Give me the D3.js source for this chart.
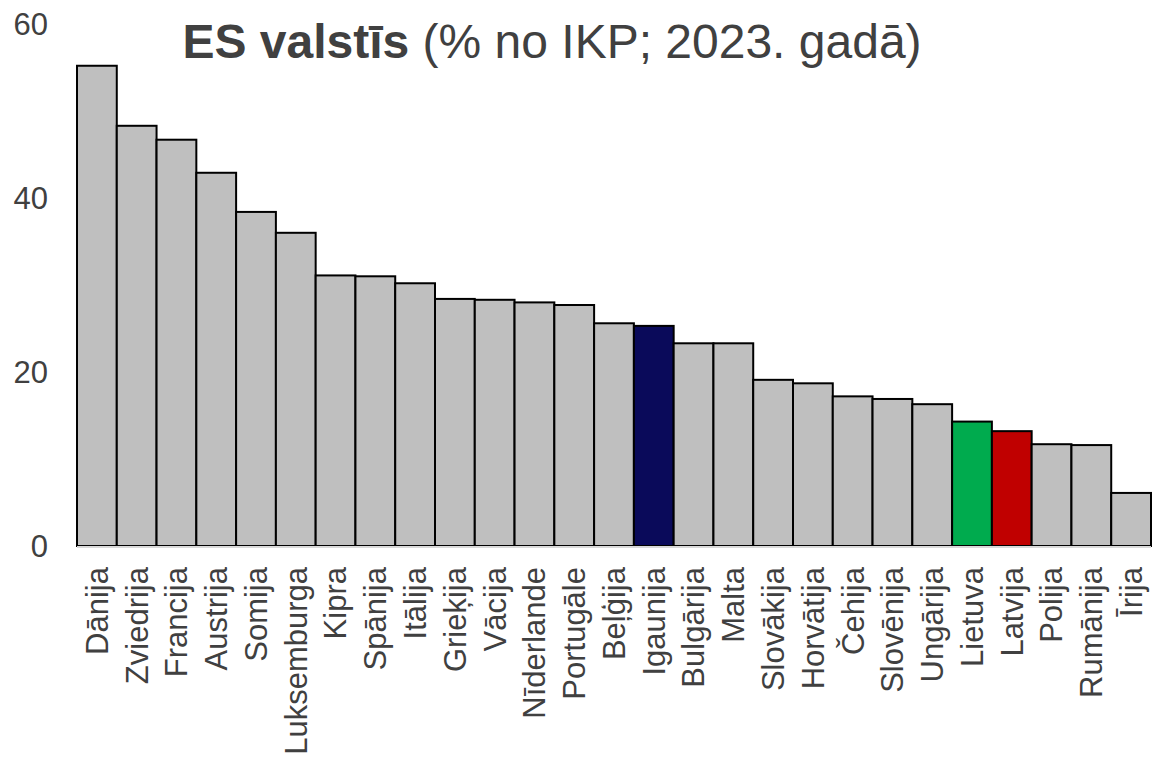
<!DOCTYPE html>
<html><head><meta charset="utf-8">
<script src="https://cdn.jsdelivr.net/npm/d3@7"></script>
<style>body{margin:0;background:#fff}svg{display:block}</style>
</head><body>
<svg id="c" width="1152" height="758"></svg>
<script>
const categories = ["Dānija","Zviedrija","Francija","Austrija","Somija","Luksemburga","Kipra","Spānija","Itālija","Grieķija","Vācija","Nīderlande","Portugāle","Beļģija","Igaunija","Bulgārija","Malta","Slovākija","Horvātija","Čehija","Slovēnija","Ungārija","Lietuva","Latvija","Polija","Rumānija","Īrija"];
const values = [55.2,48.3,46.7,42.9,38.4,36.0,31.1,31.0,30.2,28.4,28.3,28.0,27.7,25.6,25.3,23.3,23.3,19.1,18.7,17.2,16.9,16.3,14.3,13.2,11.7,11.6,6.1];
const highlight = {"Igaunija":"#0a0a5a","Lietuva":"#00ab4e","Latvija":"#c00000"};
const yTicks = [0,20,40,60];
const titleBold = "ES valstīs";
const titleRest = " (% no IKP; 2023. gadā)";

const svg = d3.select("#c");
const font = "Arial, 'Liberation Sans', sans-serif";
const x = d3.scaleBand().domain(categories).range([77,1151]).padding(0);
const y = d3.scaleLinear().domain([0,60]).range([546,24]);

svg.append("g").selectAll("rect").data(categories).join("rect")
  .attr("x", d=>x(d)).attr("width", x.bandwidth())
  .attr("y", (d,i)=>y(values[i])).attr("height",(d,i)=>y(0)-y(values[i]))
  .attr("fill", d=>highlight[d]||"#bfbfbf")
  .attr("stroke","#000").attr("stroke-width",2);

svg.append("line").attr("x1",77).attr("x2",1151).attr("y1",y(0)+1).attr("y2",y(0)+1)
  .attr("stroke","#d9d9d9").attr("stroke-width",2);

const ya = d3.axisLeft(y).tickValues(yTicks).tickSize(0).tickPadding(0);
const yg = svg.append("g").attr("transform","translate(48,0)").call(ya);
yg.select(".domain").remove();
yg.selectAll("text").attr("font-family",font).attr("font-size",31).attr("fill","#404040").attr("dy","0.35em");

const xa = d3.axisBottom(x).tickSize(0).tickPadding(0);
const xg = svg.append("g").attr("transform","translate(0,567)").call(xa);
xg.select(".domain").remove();
xg.selectAll("text").attr("font-family",font).attr("font-size",31).attr("fill","#404040")
  .attr("transform","rotate(-90)").attr("text-anchor","end").attr("dx",0).attr("dy","0.35em").attr("y",0).attr("x",0);

const t = svg.append("text").attr("x",552).attr("y",58).attr("text-anchor","middle")
  .attr("font-family",font).attr("font-size",48).attr("fill","#404040");
t.append("tspan").attr("font-weight","bold").text(titleBold);
t.append("tspan").text(titleRest);
</script>
</body></html>
